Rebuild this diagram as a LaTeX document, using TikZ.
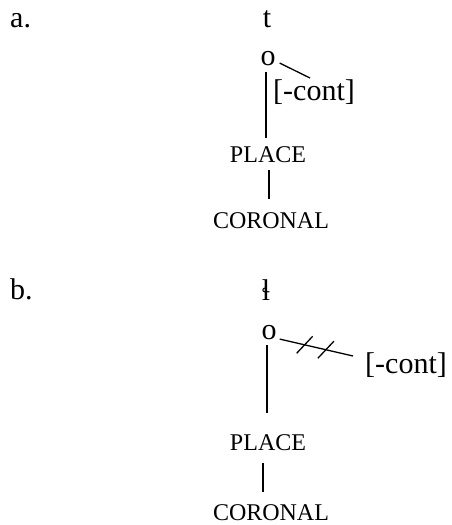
\documentclass[tikz,border=0pt]{standalone}
\usepackage{fontspec}
\setmainfont{Liberation Serif}
\usepackage{tikz}
\usetikzlibrary{calc}
\tikzset{
  seg/.style={inner sep=0pt,anchor=base,font=\fontsize{30}{34}\selectfont},
  nodelbl/.style={inner sep=0pt,anchor=base,font=\fontsize{24}{28}\selectfont},
  tie/.style={line width=1.3pt,black},
  hatch/.style={line width=1.3pt,black},
}
\begin{document}
\begin{tikzpicture}[x=1pt,y=-1pt]
    \useasboundingbox (0,0) rectangle (451,525);

    % a.
    \node[seg,anchor=base west] (alab) at (10,27) {a.};
    \node[seg] (ta) at (267,27) {t};
    \node[seg] (oa) at (268,65) {o};
    \node[seg,anchor=base west] (conta) at (273,100) {[-cont]};
    \node[nodelbl] (placea) at (268,162) {PLACE};
    \node[nodelbl] (corona) at (271,228) {CORONAL};
    \coordinate (enda) at (310,78);

    \draw[tie,shorten <=7pt,shorten >=8pt] ([xshift=-2pt]oa.south) -- ([xshift=-2pt]oa.south |- placea.north);
    \draw[tie] ([xshift=4pt,yshift=-5pt]oa.east) -- (enda);
    \draw[tie,shorten <=8pt,shorten >=13pt] ([xshift=1pt]placea.south) -- ([xshift=1pt]placea.south |- corona.north);

    % b.
    \node[seg,anchor=base west] (blab) at (10,299) {b.};
    \node[seg] (lb) at (266,300) {ɬ};
    \node[seg] (ob) at (269,339) {o};
    \node[seg,anchor=base west] (contb) at (365,373) {[-cont]};
    \node[nodelbl] (placeb) at (268,450) {PLACE};
    \node[nodelbl] (coronb) at (271,520) {CORONAL};
    \coordinate (endb) at (353,356);

    \draw[tie,shorten <=6pt,shorten >=21pt] ([xshift=-2pt]ob.south) -- ([xshift=-2pt]ob.south |- placeb.north);
    \draw[tie] ([xshift=3pt,yshift=-7pt]ob.east) -- (endb)
      coordinate[pos=0.34] (hb1) coordinate[pos=0.63] (hb2);
    \draw[hatch] (hb1) ++(-8,8.5) -- ++(16,-17);
    \draw[hatch] (hb2) ++(-8,8.5) -- ++(16,-17);
    \draw[tie,shorten <=13pt,shorten >=12pt] ([xshift=-5pt]placeb.south) -- ([xshift=-5pt]placeb.south |- coronb.north);
\end{tikzpicture}
\end{document}
